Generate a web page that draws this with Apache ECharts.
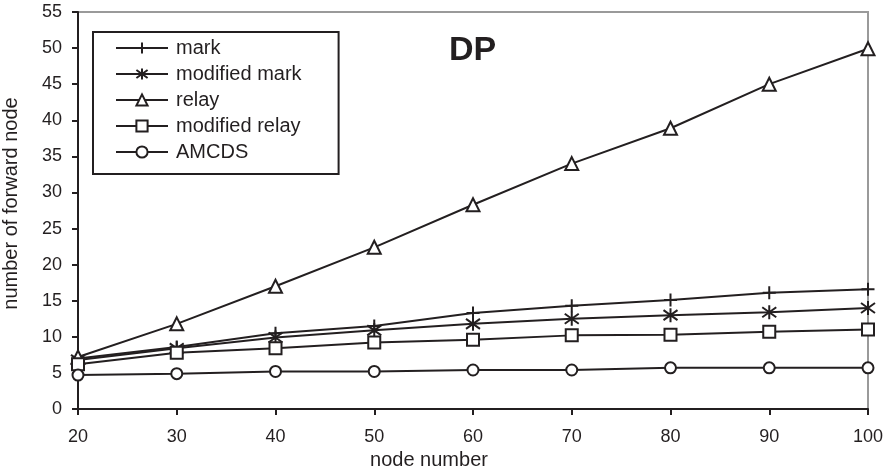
<!DOCTYPE html>
<html>
<head>
<meta charset="utf-8">
<script src="https://cdn.jsdelivr.net/npm/echarts@6/dist/echarts.min.js"></script>
<style>
  html, body { margin: 0; padding: 0; background: #fff; }
  #chart { width: 885px; height: 471px; }
</style>
</head>
<body>
<div id="chart"></div>
<script>
// x categories (node number)
const nodeNumbers = [20, 30, 40, 50, 60, 70, 80, 90, 100]

// series values
const mark = [7.0, 8.6, 10.5, 11.5, 13.3, 14.3, 15.1, 16.1, 16.6]
const modifiedMark = [6.8, 8.4, 9.9, 10.9, 11.8, 12.5, 13.0, 13.4, 14.0]
const relay = [7.2, 11.8, 17.0, 22.4, 28.3, 34.0, 38.9, 45.0, 49.9]
const modifiedRelay = [6.2, 7.8, 8.4, 9.2, 9.6, 10.2, 10.3, 10.7, 11.0]
const amcds = [4.7, 4.9, 5.2, 5.2, 5.4, 5.4, 5.7, 5.7, 5.7]

const ink = '#231f20'
const font = 'Liberation Sans, Arial, sans-serif'

// stroked path symbols
const plusPath = 'path://M0,6 L12,6 M6,0 L6,12'
const starPath = 'path://M1,2 L11,12 M11,2 L1,12 M6,0 L6,14'

function pairs(vals) {
  return nodeNumbers.map((x, i) => [x, vals[i]])
}

function lineSeries(name, vals, symbol, size, strokeOnly) {
  return {
    name,
    type: 'line',
    data: pairs(vals),
    symbol,
    symbolSize: size,
    showSymbol: true,
    lineStyle: { color: ink, width: 2 },
    itemStyle: strokeOnly
      ? { color: 'rgba(0,0,0,0)', borderColor: ink, borderWidth: 2 }
      : { color: '#fff', borderColor: ink, borderWidth: 2 },
    emphasis: { disabled: true },
    z: 3,
  }
}

const chart = echarts.init(document.getElementById('chart'), null, { renderer: 'canvas' })

chart.setOption({
  animation: false,
  backgroundColor: '#fff',
  textStyle: { fontFamily: font, color: ink },
  title: {
    text: 'DP',
    left: 444,
    top: 29,
    textStyle: { fontSize: 34, fontWeight: 'bold', color: ink, fontFamily: font },
  },
  legend: {
    orient: 'vertical',
    left: 93,
    top: 32,
    padding: [6, 37, 12, 22],
    itemWidth: 52,
    itemHeight: 14,
    itemGap: 6,
    borderColor: ink,
    borderWidth: 2,
    textStyle: { fontSize: 20, color: ink, fontFamily: font, padding: [0, 0, 0, 3] },
    data: ['mark', 'modified mark', 'relay', 'modified relay', 'AMCDS'],
  },
  grid: {
    left: 78,
    right: 17,
    top: 12,
    bottom: 62,
    containLabel: false,
    outerBoundsMode: 'none',
    show: true,
    borderColor: '#9a9a9a',
    borderWidth: 2,
  },
  xAxis: {
    type: 'value',
    min: 20,
    max: 100,
    interval: 10,
    name: 'node number',
    nameLocation: 'middle',
    nameGap: 40,
    nameTextStyle: { fontSize: 20, color: ink, padding: [0, 88, 0, 0] },
    axisLine: { lineStyle: { color: ink, width: 2 } },
    axisTick: { length: 6, lineStyle: { color: ink, width: 2 } },
    axisLabel: { fontSize: 18, color: ink, margin: 19 },
    splitLine: { show: false },
  },
  yAxis: {
    type: 'value',
    min: 0,
    max: 55,
    interval: 5,
    name: 'number of forward node',
    nameLocation: 'middle',
    nameGap: 57,
    nameTextStyle: { fontSize: 20, color: ink, padding: [0, 0, 0, 14] },
    axisLine: { show: true, lineStyle: { color: ink, width: 2 } },
    axisTick: { show: true, length: 6, lineStyle: { color: ink, width: 2 } },
    axisLabel: { fontSize: 18, color: ink, margin: 16 },
    splitLine: { show: false },
  },
  series: [
    lineSeries('mark', mark, plusPath, 13, true),
    lineSeries('modified mark', modifiedMark, starPath, 14, true),
    lineSeries('relay', relay, 'triangle', 13, false),
    lineSeries('modified relay', modifiedRelay, 'rect', 12, false),
    lineSeries('AMCDS', amcds, 'circle', 11, false),
  ],
})
</script>
</body>
</html>
